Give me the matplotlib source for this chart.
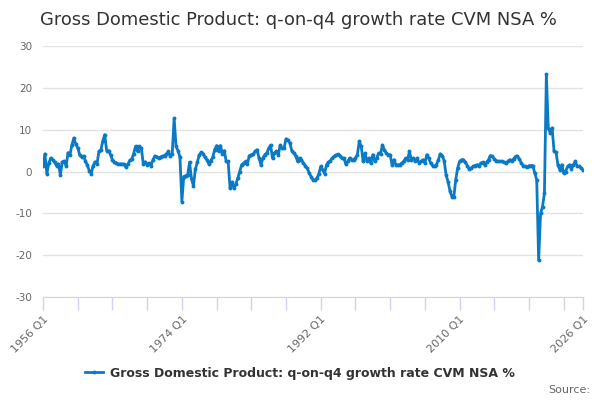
import numpy as np
import matplotlib.pyplot as plt
from matplotlib.lines import Line2D

plt.rcParams['font.family'] = ['DejaVu Sans']

title = "Gross Domestic Product: q-on-q4 growth rate CVM NSA %"

# quarterly values, 1956 Q1 .. 2026 Q1
growth = [
    1.4, 4.2, -0.6, 2.0, 3.2, 2.8, 2.2, 1.4, 1.8, -0.8,   # 1956-58
    2.3, 2.5, 1.4, 4.5, 4.0, 6.4, 8.0, 6.5, 5.7, 4.0,     # 1958-60
    3.5, 3.7, 2.5, 1.5, 0.2, -0.5, 1.4, 2.3, 1.8, 4.8,    # 1961-63
    5.1, 7.3, 8.8, 5.0, 5.0, 4.0, 2.8, 2.3, 2.0, 1.7,     # 1963-65
    1.8, 1.8, 1.7, 1.1, 1.7, 2.7, 2.9, 4.3, 6.0, 4.8,     # 1966-68
    6.0, 5.6, 1.8, 2.3, 1.6, 2.0, 1.4, 2.8, 3.7, 3.5,     # 1968-70
    3.3, 3.5, 3.7, 3.8, 4.2, 4.8, 3.6, 4.3, 12.7, 6.0,    # 1971-73
    5.0, 3.5, -7.2, -1.2, -1.0, -0.8, 2.2, -1.8, -3.4, 0.5,  # 1973-75
    2.2, 3.9, 4.6, 4.3, 3.4, 2.8, 1.8, 2.6, 3.4, 5.2,     # 1976-78
    6.2, 4.8, 6.2, 4.3, 5.0, 2.4, 2.4, -4.0, -2.5, -4.0,  # 1978-80
    -3.0, -1.6, 0.0, 1.6, 2.0, 2.4, 1.8, 3.8, 4.0, 4.2,   # 1981-83
    4.8, 5.2, 3.2, 1.6, 3.2, 4.0, 4.4, 5.5, 6.3, 3.2,     # 1983-85
    4.4, 4.8, 4.0, 6.3, 5.5, 5.5, 7.8, 7.5, 6.8, 5.0,     # 1986-88
    4.4, 3.8, 2.4, 3.2, 2.8, 2.0, 1.4, 0.8, -0.4, -1.2,   # 1988-90
    -2.0, -2.1, -1.6, -0.6, 1.2, 0.4, -0.5, 1.6, 2.2, 2.6,  # 1991-93
    3.2, 3.6, 4.0, 4.1, 3.8, 3.2, 3.2, 1.8, 2.4, 3.2,     # 1993-95
    2.8, 2.8, 3.2, 4.0, 7.2, 6.0, 2.4, 4.4, 2.4, 3.2,     # 1996-98
    2.0, 4.0, 2.4, 3.2, 4.4, 4.2, 6.3, 5.2, 4.4, 4.0,     # 1998-2000
    4.0, 1.6, 2.8, 1.6, 1.6, 1.6, 2.0, 2.4, 3.2, 2.8,     # 2001-03
    4.8, 2.8, 3.2, 2.4, 3.2, 2.0, 2.4, 2.8, 2.0, 4.0,     # 2003-05
    3.2, 2.0, 1.4, 1.2, 1.6, 2.8, 4.2, 3.8, 2.6, -0.8,    # 2006-08
    -2.4, -4.6, -6.0, -6.2, -2.0, 0.8, 2.4, 2.8, 2.8, 2.2,  # 2008-10
    1.4, 0.6, 0.8, 1.2, 1.4, 1.6, 1.4, 2.0, 2.2, 1.6,     # 2011-13
    2.2, 2.8, 3.8, 3.6, 3.0, 2.6, 2.4, 2.4, 2.4, 2.2,     # 2013-15
    2.0, 2.4, 2.8, 2.6, 3.0, 3.6, 3.6, 3.0, 2.0, 1.4,     # 2016-18
    1.2, 1.0, 1.4, 1.4, 1.4, -0.4, -2.0, -21.2, -10.0, -8.4,  # 2018-20
    -5.2, 23.2, 10.4, 9.2, 10.4, 4.8, 4.6, 1.6, 0.4, 1.6,  # 2021-23
    -0.4, 0.0, 1.2, 1.6, 0.6, 1.6, 2.4, 1.2, 1.2, 0.9,    # 2023-25
    0.3,                                                  # 2026 Q1
]
tick_labels = ["1956 Q1", "1974 Q1", "1992 Q1", "2010 Q1", "2026 Q1"]
y_ticks = [-30, -20, -10, 0, 10, 20, 30]

x = np.arange(len(growth))
blue = "#0a7ac4"
grey_txt = "#666666"

fig = plt.figure(figsize=(6, 4), dpi=100)
ax = fig.add_axes([43 / 600, 103 / 400, 540 / 600, 251 / 400])

ax.plot(x, growth, color=blue, lw=2, marker="o", ms=2.8, mew=0)

ax.set_xlim(0, len(growth) - 1)
ax.set_ylim(-30, 30)
ax.set_yticks(y_ticks)
ax.set_yticklabels([str(v) for v in y_ticks], color=grey_txt, fontsize=7.5)
ax.grid(axis="y", color="#e3e3e3", lw=1)
ax.set_axisbelow(True)

major = [0, 72, 144, 216, len(growth) - 1]
ax.set_xticks(major)
ax.set_xticklabels(tick_labels, rotation=45, ha="right", va="top",
                   rotation_mode="anchor", color=grey_txt, fontsize=8)
ax.set_xticks(np.arange(0, len(growth), 18), minor=True)
ax.tick_params(axis="x", which="both", length=9, color="#ccd6eb", width=1)
ax.tick_params(axis="y", length=0, pad=8)

for s in ["top", "right", "left"]:
    ax.spines[s].set_visible(False)
ax.spines["bottom"].set_color("#ccd6eb")

fig.text(40 / 600, 1 - 20 / 400, title, fontsize=12.9, color="#333333",
         va="center", ha="left")

handle = Line2D([], [], color=blue, lw=2, marker="o", ms=2.8, mew=0)
fig.legend([handle], [title], loc="center", bbox_to_anchor=(0.5, 1 - 373 / 400),
           frameon=False, prop={"weight": "bold", "size": 9}, handlelength=1.4,
           handletextpad=0.6, labelcolor="#333333")

fig.text(590 / 600, 1 - 390 / 400, "Source:", fontsize=8, color=grey_txt,
         ha="right", va="center")

fig.savefig("out.png", dpi=100)
